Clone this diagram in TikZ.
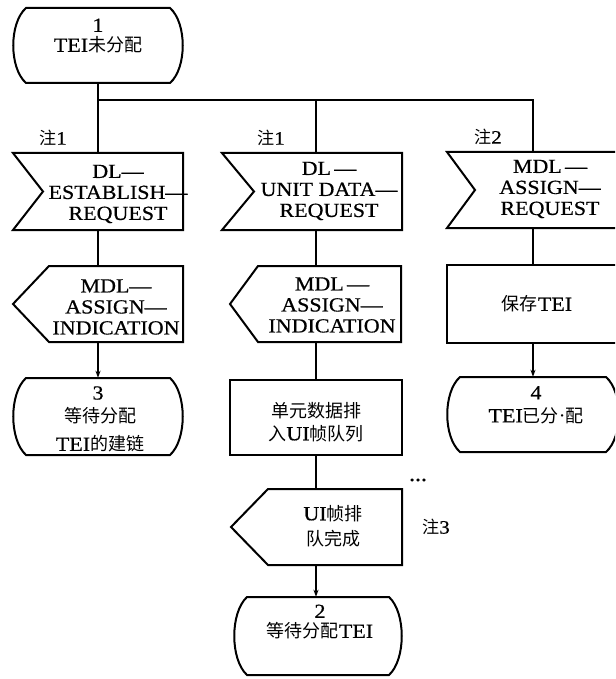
\documentclass[tikz,border=0pt]{standalone}
\usepackage{fontspec}
\setmainfont[FakeStretch=1.1,FakeBold=0.6]{Liberation Serif}
\newfontfamily\cjk[Scale=0.9]{Noto Sans CJK SC}
\newfontfamily\dotfont{Liberation Serif}
\newcommand\zh[1]{{\cjk #1}}
\usetikzlibrary{arrows.meta}
\tikzset{
  shapeline/.style={line width=2pt, line join=miter},
  conn/.style={line width=1.2pt},
  arr/.style={conn, -{Stealth[length=7pt,width=5pt]}},
  plain/.style={inner sep=0, draw=none},
  txt/.style={font=\fontsize{20}{21}\selectfont, align=center, inner sep=0},
  note/.style={font=\fontsize{19}{19}\selectfont, inner sep=0}
}
\newcommand{\InSig}[6]{%
  \node[plain, minimum width={#3-#2}, minimum height={#5-#4}] (#1) at ({(#2+#3)/2},{(#4+#5)/2}) {};
  \draw[shapeline] (#2,#4) -- (#3,#4) -- (#3,#5) -- (#2,#5) -- ({#2+#6},{(#4+#5)/2}) -- cycle;}
\newcommand{\OutSig}[6]{%
  \node[plain, minimum width={#3-#2}, minimum height={#5-#4}] (#1) at ({(#2+#3)/2},{(#4+#5)/2}) {};
  \draw[shapeline] ({#2+#6},#4) -- (#3,#4) -- (#3,#5) -- ({#2+#6},#5) -- (#2,{(#4+#5)/2}) -- cycle;}
\newcommand{\ProcBox}[5]{%
  \node[plain, minimum width={#3-#2}, minimum height={#5-#4}] (#1) at ({(#2+#3)/2},{(#4+#5)/2}) {};
  \draw[shapeline] (#2,#4) rectangle (#3,#5);}
\newcommand{\StateBox}[5]{%
  \node[plain, minimum width={#3-#2}, minimum height={#5-#4}] (#1) at ({(#2+#3)/2},{(#4+#5)/2}) {};
  \draw[shapeline] ({#2+13},#4) -- ({#3-13},#4)
    .. controls ({#3+4},{#4+0.2*(#5-#4)}) and ({#3+4},{#5-0.2*(#5-#4)}) .. ({#3-13},#5)
    -- ({#2+13},#5)
    .. controls ({#2-4},{#5-0.2*(#5-#4)}) and ({#2-4},{#4+0.2*(#5-#4)}) .. ({#2+13},#4) -- cycle;}
\begin{document}
\begin{tikzpicture}[x=1pt,y=-1pt]
\useasboundingbox (0,0) rectangle (615,679);
\clip (0,0) rectangle (615,679);

% states and boxes
\StateBox{s1}{13}{183}{8}{83}
\InSig{in1}{13}{183}{153}{230}{30}
\InSig{in2}{222}{402}{153}{230}{32}
\InSig{in3}{447}{619}{152}{228}{28}
\OutSig{out1}{13}{183}{266}{342}{36}
\OutSig{out2}{230}{401}{266}{342}{28}
\ProcBox{pr3}{447}{619}{265}{343}
\StateBox{s3}{13}{183}{378}{455}
\ProcBox{pr2}{230}{402}{380}{455}
\StateBox{s4}{447}{619}{377}{452}
\OutSig{ui}{231}{402}{489}{565}{37}
\StateBox{s2}{234}{402}{597}{675}

% connectors
\coordinate (j1) at (98,100);
\coordinate (j2) at (316,100);
\coordinate (j3) at (533,100);
\draw[conn] (s1.south) -- (in1.north);
\draw[conn] (j1) -- (j3) -- (in3.north);
\draw[conn] (j2) -- (j2 |- in2.north);
\draw[conn] (in1.south) -- (out1.north);
\draw[arr] (out1.south) -- (s3.north);
\draw[conn] (in2.south -| j2) -- (out2.north -| j2);
\draw[conn] (out2.south -| j2) -- (pr2.north -| j2);
\draw[conn] (pr2.south -| j2) -- (ui.north -| j2);
\draw[arr] (ui.south -| j2) -- (s2.north -| j2);
\draw[conn] (in3.south) -- (pr3.north);
\draw[arr] (pr3.south) -- (s4.north);

% texts
\node[txt, font=\fontsize{20}{20}\selectfont] (t1) at (98,36) {1\\TEI\zh{未分配}};
\node[note] (n1) at (53,138) {\zh{注}1};
\node[note] (n2) at (271,138) {\zh{注}1};
\node[note] (n3) at (488,137) {\zh{注}2};
\node[note] (n4) at (436,527) {\zh{注}3};
\node[note, font=\fontsize{16}{16}\selectfont\bfseries] (dots) at (418,480) {\ldots};
\node[txt] (t2) at (118,194) {DL—\\ESTABLISH—\\REQUEST};
\node[txt] (t3) at (329,191) {DL\,—\\UNIT DATA—\\REQUEST};
\node[txt] (t4) at (550,189) {MDL\,—\\ASSIGN—\\REQUEST};
\node[txt] (t5) at (116,307) {MDL—\\ASSIGN—\\INDICATION};
\node[txt] (t6) at (332,305) {MDL\,—\\ASSIGN—\\INDICATION};
\node[txt] (t7) at (537,304) {\zh{保存}TEI};
\node[txt, font=\fontsize{20}{23}\selectfont] (t8) at (316,422) {\zh{单元数据排}\\\zh{入}UI\zh{帧队列}};
\node[txt] (t9) at (98,393) {3};
\node[txt, font=\fontsize{20}{28}\selectfont] (t10) at (100,430) {\zh{等待分配}\\TEI\zh{的建链}};
\node[txt, font=\fontsize{20}{23}\selectfont] (t11) at (536,405) {4\\TEI\zh{已分}{\dotfont·}\zh{配}};
\node[txt, font=\fontsize{20}{25}\selectfont] (t12) at (333,526) {UI\zh{帧排}\\\zh{队完成}};
\node[txt, font=\fontsize{20}{20}\selectfont] (t13) at (320,622) {2\\\zh{等待分配}TEI};
\end{tikzpicture}
\end{document}
